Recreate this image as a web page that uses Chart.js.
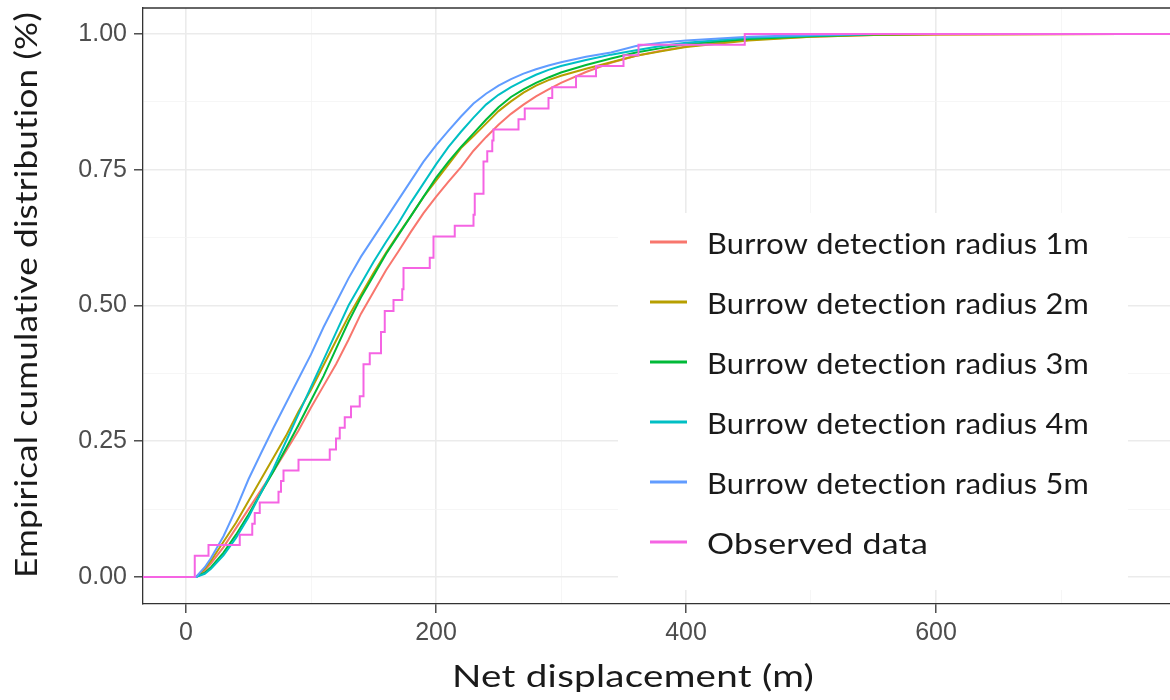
<!DOCTYPE html>
<html>
<head>
<meta charset="utf-8">
<script src="https://cdn.jsdelivr.net/npm/chart.js@4/dist/chart.umd.min.js"></script>
<style>
  html, body { margin: 0; padding: 0; background: #fff; overflow: hidden; }
  #wrap { width: 1170px; height: 700px; }
</style>
</head>
<body>
<div id="wrap"><canvas id="ecdfChart" width="1170" height="700"></canvas></div>
<script>
// net displacement (m) where the simulated curves were read
const distance = [-40, 0, 8, 15, 20, 30, 40, 50, 60, 70, 80, 90, 100, 110, 120, 130, 140, 150, 160, 170, 180, 190,
  200, 210, 220, 230, 240, 250, 260, 270, 280, 290, 300, 320, 340, 360, 380, 400, 450, 500, 550, 600, 750, 800];

const radius1m = [0, 0, 0, 0.012, 0.025, 0.055, 0.09, 0.125, 0.16, 0.195, 0.232, 0.27, 0.312, 0.352, 0.392, 0.437, 0.485, 0.525, 0.565, 0.6, 0.636, 0.67,
  0.7, 0.728, 0.755, 0.785, 0.81, 0.833, 0.853, 0.87, 0.885, 0.898, 0.91, 0.93, 0.947, 0.96, 0.969, 0.977, 0.99, 0.995, 0.998, 0.999, 1, 1];
const radius2m = [0, 0, 0, 0.015, 0.03, 0.065, 0.1, 0.14, 0.18, 0.22, 0.26, 0.305, 0.345, 0.39, 0.435, 0.48, 0.52, 0.56, 0.597, 0.632, 0.665, 0.7,
  0.73, 0.76, 0.79, 0.812, 0.835, 0.858, 0.876, 0.892, 0.905, 0.915, 0.923, 0.936, 0.948, 0.96, 0.968, 0.976, 0.988, 0.995, 0.998, 0.999, 1, 1];
const radius3m = [0, 0, 0, 0.008, 0.018, 0.045, 0.078, 0.115, 0.155, 0.195, 0.237, 0.28, 0.325, 0.37, 0.42, 0.47, 0.515, 0.555, 0.595, 0.63, 0.665, 0.7,
  0.735, 0.765, 0.792, 0.817, 0.842, 0.865, 0.884, 0.898, 0.91, 0.92, 0.929, 0.943, 0.955, 0.966, 0.974, 0.981, 0.991, 0.996, 0.999, 1, 1, 1];
const radius4m = [0, 0, 0, 0.006, 0.015, 0.04, 0.072, 0.11, 0.155, 0.2, 0.25, 0.3, 0.35, 0.4, 0.45, 0.5, 0.54, 0.58, 0.617, 0.652, 0.69, 0.725,
  0.76, 0.792, 0.82, 0.846, 0.87, 0.888, 0.902, 0.914, 0.925, 0.934, 0.941, 0.952, 0.962, 0.97, 0.978, 0.984, 0.993, 0.997, 1, 1, 1, 1];
const radius5m = [0, 0, 0, 0.018, 0.035, 0.075, 0.125, 0.18, 0.228, 0.275, 0.32, 0.365, 0.41, 0.46, 0.505, 0.55, 0.59, 0.625, 0.66, 0.695, 0.73, 0.765,
  0.795, 0.822, 0.848, 0.872, 0.89, 0.905, 0.917, 0.927, 0.935, 0.942, 0.948, 0.958, 0.966, 0.978, 0.984, 0.988, 0.995, 0.998, 1, 1, 1, 1];

// observed ECDF steps: distance (m) and proportion after each step
const obsDist = [-40, 7, 18, 43, 53, 55, 59, 74, 76, 78, 90, 115, 120, 123, 127, 132, 139, 142, 147, 156, 159, 166, 173, 174,
  195, 198, 215, 230, 231, 238, 241, 245, 246, 266, 271, 290, 293, 312, 328, 350, 362, 447, 800];
const obsProp = [0, 0.039, 0.059, 0.078, 0.098, 0.118, 0.137, 0.157, 0.177, 0.196, 0.216, 0.235, 0.255, 0.275, 0.294, 0.314, 0.333, 0.392, 0.412, 0.451, 0.49, 0.51, 0.53, 0.569,
  0.588, 0.627, 0.647, 0.667, 0.706, 0.765, 0.784, 0.804, 0.824, 0.843, 0.863, 0.882, 0.902, 0.922, 0.941, 0.961, 0.98, 1, 1];

const seriesLabels = ["Burrow detection radius 1m", "Burrow detection radius 2m", "Burrow detection radius 3m",
  "Burrow detection radius 4m", "Burrow detection radius 5m", "Observed data"];
const seriesColors = ["#F8766D", "#B79F00", "#00BA38", "#00BFC4", "#619CFF", "#F564E3"];

const xTitle = "Net displacement (m)";
const yTitle = "Empirical cumulative distribution (%)";

const xTicks = [0, 100, 200, 300, 400, 500, 600, 700];
const yTicks = [0, 0.125, 0.25, 0.375, 0.5, 0.625, 0.75, 0.875, 1];

function pairs(xs, ys) {
  return xs.map((x, i) => ({ x: x, y: ys[i] }));
}

const simulated = [radius1m, radius2m, radius3m, radius4m, radius5m];
let datasets = simulated.map((vals, i) => ({
  label: seriesLabels[i],
  data: pairs(distance, vals),
  borderColor: seriesColors[i],
  borderWidth: 2,
  pointRadius: 0,
  tension: 0,
  order: 5 - i,
}));
datasets.push({
  label: seriesLabels[5],
  data: pairs(obsDist, obsProp),
  borderColor: seriesColors[5],
  borderWidth: 2,
  pointRadius: 0,
  stepped: true,
  order: 0,
});

const isMajorX = (v) => v % 200 === 0;
const isMajorY = (v) => Math.abs(v * 4 - Math.round(v * 4)) < 1e-9;

// the source figure is stretched sideways, so text is widened to the measured length
function stretchedText(ctx, text, x, y, targetWidth) {
  const w = ctx.measureText(text).width;
  ctx.save();
  ctx.translate(x, y);
  ctx.scale(targetWidth / w, 1);
  ctx.fillText(text, 0, 0);
  ctx.restore();
}

// top border of the panel + axis titles + inside legend
const panelExtras = {
  id: "panelExtras",
  beforeDatasetsDraw(chart) {
    const ctx = chart.ctx;
    const area = chart.chartArea;
    ctx.save();
    ctx.strokeStyle = "#333333";
    ctx.lineWidth = 1.3;
    ctx.beginPath();
    ctx.moveTo(area.left, area.top);
    ctx.lineTo(area.right, area.top);
    ctx.stroke();
    ctx.restore();
  },
  afterDatasetsDraw(chart) {
    const ctx = chart.ctx;
    ctx.save();
    ctx.letterSpacing = "0.2px";
    // legend background
    ctx.fillStyle = "#ffffff";
    ctx.fillRect(618, 213, 510, 377);
    ctx.font = "28px Lato";
    ctx.textBaseline = "middle";
    ctx.textAlign = "left";
    chart.data.datasets.forEach((ds, i) => {
      const y = 242 + i * 60;
      ctx.strokeStyle = ds.borderColor;
      ctx.lineWidth = 3;
      ctx.beginPath();
      ctx.moveTo(650, y);
      ctx.lineTo(687, y);
      ctx.stroke();
      ctx.fillStyle = "#1a1a1a";
      const target = ds.label === "Observed data" ? 221 : 382;
      stretchedText(ctx, ds.label, 707, y + 3, target);
    });
    // axis titles
    ctx.fillStyle = "#1a1a1a";
    ctx.font = "30px Lato";
    ctx.textAlign = "center";
    stretchedText(ctx, xTitle, 633, 677, 362);
    ctx.translate(27, 295);
    ctx.rotate(-Math.PI / 2);
    stretchedText(ctx, yTitle, 0, 0, 566);
    ctx.restore();
  },
};

const ctx = document.getElementById("ecdfChart");
const chart = new Chart(ctx, {
  type: "line",
  data: { datasets: datasets },
  options: {
    responsive: false,
    animation: false,
    layout: { padding: { top: 8, right: 0, left: 0, bottom: 0 } },
    plugins: {
      legend: { display: false },
      tooltip: { enabled: false },
    },
    scales: {
      x: {
        type: "linear",
        min: -34.4,
        max: 787.2,
        afterBuildTicks: (scale) => {
          scale.ticks = xTicks.map((v) => ({ value: v }));
        },
        afterFit: (scale) => {
          scale.height = 96;
          scale.paddingLeft = 0;
          scale.paddingRight = 0;
        },
        ticks: {
          autoSkip: false,
          maxRotation: 0,
          padding: 5,
          color: "#4D4D4D",
          font: { family: "Liberation Sans", size: 25 },
          callback: (v) => (isMajorX(v) ? String(v) : ""),
        },
        grid: {
          color: (c) => (isMajorX(c.tick.value) ? "#EBEBEB" : "#F4F4F4"),
          lineWidth: (c) => (isMajorX(c.tick.value) ? 1.6 : 0.8),
          tickColor: (c) => (isMajorX(c.tick.value) ? "#333333" : "rgba(0,0,0,0)"),
          tickLength: 9,
          tickWidth: 1.3,
        },
        border: { color: "#333333", width: 1.3 },
      },
      y: {
        type: "linear",
        min: -0.0497,
        max: 1.0479,
        afterBuildTicks: (scale) => {
          scale.ticks = yTicks.map((v) => ({ value: v }));
        },
        afterFit: (scale) => {
          scale.width = 143;
          scale.paddingTop = 0;
          scale.paddingBottom = 0;
        },
        ticks: {
          autoSkip: false,
          padding: 7,
          color: "#4D4D4D",
          font: { family: "Liberation Sans", size: 25 },
          callback: (v) => (isMajorY(v) ? v.toFixed(2) : ""),
        },
        grid: {
          color: (c) => (isMajorY(c.tick.value) ? "#EBEBEB" : "#F4F4F4"),
          lineWidth: (c) => (isMajorY(c.tick.value) ? 1.6 : 0.8),
          tickColor: (c) => (isMajorY(c.tick.value) ? "#333333" : "rgba(0,0,0,0)"),
          tickLength: 9,
          tickWidth: 1.3,
        },
        border: { color: "#333333", width: 1.3 },
      },
    },
  },
  plugins: [panelExtras],
});
</script>
</body>
</html>
